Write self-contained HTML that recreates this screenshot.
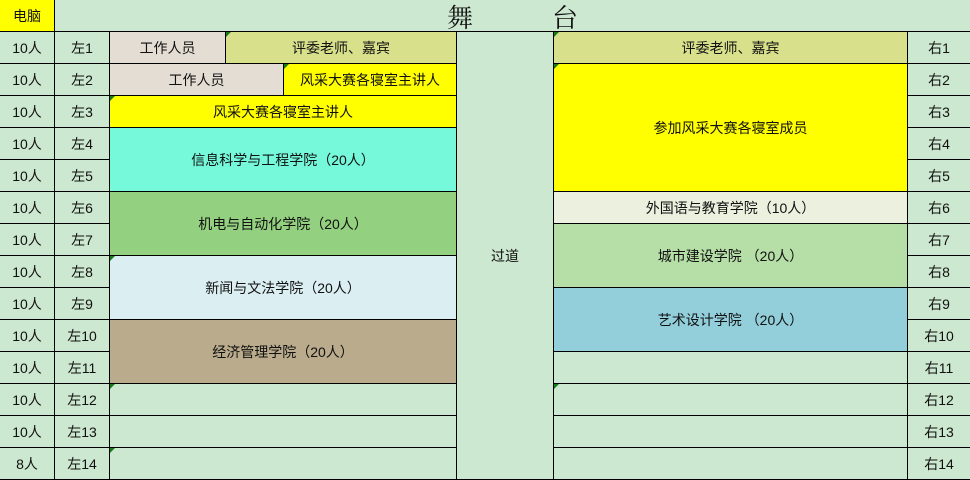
<!DOCTYPE html>
<html><head><meta charset="utf-8"><style>
body{margin:0;width:970px;height:480px;overflow:hidden;background:#cde8d0;font-family:"Liberation Sans","Noto Sans CJK SC",sans-serif;position:relative}
.c{position:absolute;box-sizing:border-box;border-right:1px solid #000;border-bottom:1px solid #000;display:flex;align-items:center;justify-content:center;font-size:14px;color:#111;white-space:nowrap;padding-top:1px}
.t{position:absolute;font-size:26px;top:-2px;color:#111;font-family:"Noto Serif CJK SC","Noto Sans CJK SC",serif}
.g{position:absolute;width:0;height:0;border-top:5px solid #1a7a1a;border-right:5px solid transparent}
</style></head><body>
<div class="c" style="left:0;top:0;width:55px;height:32px;background:#ffff00">电脑</div>
<div class="t" style="left:447px">舞</div><div class="t" style="left:552px">台</div>
<div style="position:absolute;left:55px;top:31px;width:915px;height:1px;background:#000"></div>
<div id="rows"></div>
<script>
var h='';
for(var i=0;i<14;i++){var y=32+i*32;
h+='<div class="c" style="left:0;top:'+y+'px;width:55px;height:32px">'+(i==13?'8人':'10人')+'</div>';
h+='<div class="c" style="left:55px;top:'+y+'px;width:55px;height:32px">左'+(i+1)+'</div>';
h+='<div class="c" style="left:908px;top:'+y+'px;width:62px;height:32px;border-right:none">右'+(i+1)+'</div>';}
function c(x,y,w,hh,bg,t){h+='<div class="c" style="left:'+x+'px;top:'+y+'px;width:'+w+'px;height:'+hh+'px;background:'+bg+'">'+t+'</div>';}
c(110,32,116,32,'#e4ddd3','工作人员');c(226,32,231,32,'#d9e08b','评委老师、嘉宾');
c(110,64,174,32,'#e4ddd3','工作人员');c(284,64,173,32,'#ffff00','风采大赛各寝室主讲人');
c(110,96,347,32,'#ffff00','风采大赛各寝室主讲人');
c(110,128,347,64,'#76f8da','信息科学与工程学院（20人）');
c(110,192,347,64,'#93d07f','机电与自动化学院（20人）');
c(110,256,347,64,'#dbeef2','新闻与文法学院（20人）');
c(110,320,347,64,'#b9ab8b','经济管理学院（20人）');
c(110,384,347,32,'#cde8d0','');c(110,416,347,32,'#cde8d0','');c(110,448,347,32,'#cde8d0','');
c(457,32,97,448,'#cde8d0','过道');
c(554,32,354,32,'#d9e08b','评委老师、嘉宾');
c(554,64,354,128,'#ffff00','参加风采大赛各寝室成员');
c(554,192,354,32,'#ebf1de','外国语与教育学院（10人）');
c(554,224,354,64,'#b6dea7','城市建设学院 （20人）');
c(554,288,354,64,'#92cfdb','艺术设计学院 （20人）');
for(var k=0;k<4;k++)c(554,352+k*32,354,32,'#cde8d0','');
[[226,32],[284,64],[110,96],[110,256],[110,384],[110,448],[554,32],[554,64],[554,384]].forEach(function(p){h+='<div class="g" style="left:'+p[0]+'px;top:'+p[1]+'px"></div>';});
document.getElementById('rows').innerHTML=h;
</script>
</body></html>
